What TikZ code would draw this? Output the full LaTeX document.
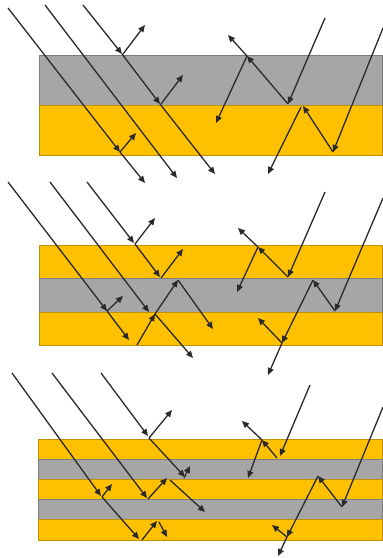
\documentclass[tikz,border=0pt]{standalone}
\usetikzlibrary{arrows.meta}
\definecolor{ylw}{HTML}{FFC000}
\definecolor{gry}{HTML}{A6A6A6}
\definecolor{raycol}{HTML}{2A2A2A}
\begin{document}
\begin{tikzpicture}[x=1pt,y=-1pt,
  ylayer/.style={fill=ylw,draw=ylw!75!black,line width=0.5pt},
  glayer/.style={fill=gry,draw=gry!75!black,line width=0.5pt},
  ray/.style={draw=raycol,line width=1.3pt,-{Triangle[length=7pt,width=6pt]}}]
\useasboundingbox (0,0) rectangle (383,558);
% ---------- panel 1 ----------
\path[glayer] (39,55) rectangle (382,105);
\path[ylayer] (39,105) rectangle (382,155);
% ---------- panel 2 ----------
\path[ylayer] (39,245) rectangle (382,278);
\path[glayer] (39,278) rectangle (382,312);
\path[ylayer] (39,312) rectangle (382,345);
% ---------- panel 3 ----------
\path[ylayer] (38,439) rectangle (382,459);
\path[glayer] (38,459) rectangle (382,479);
\path[ylayer] (38,479) rectangle (382,499);
\path[glayer] (38,499) rectangle (382,519);
\path[ylayer] (38,519) rectangle (382,540);

% ===== panel 1 rays =====
\draw[ray] (8,8) -- (120,152);
\draw[ray] (120,152) -- (145,183);
\draw[ray] (120,152) -- (136,133);
\draw[ray] (45,5) -- (177,178);
\draw[ray] (83,5) -- (122,54);
\draw[ray] (123,54) -- (145,25);
\draw[ray] (122,54) -- (160,104);
\draw[ray] (161,104) -- (183,75);
\draw[ray] (160,104) -- (215,174);
\draw[ray] (325,18) -- (288,104);
\draw[ray] (288,104) -- (247,56);
\draw[ray] (247,56) -- (228,35);
\draw[ray] (247,56) -- (216,123);
\draw[ray] (383,28) -- (333,152);
\draw[ray] (333,152) -- (303,106);
\draw[ray] (301,107) -- (268,174);

% ===== panel 2 rays =====
\draw[ray] (8,182) -- (107,311);
\draw[ray] (107,311) -- (123,296);
\draw[ray] (107,311) -- (129,340);
\draw[ray] (50,182) -- (149,312);
\draw[ray] (155,314) -- (193,358);
\draw[ray] (87,182) -- (134,243);
\draw[ray] (135,244) -- (155,218);
\draw[ray] (135,244) -- (160,277);
\draw[ray] (161,278) -- (183,249);
\draw[ray] (137,345) -- (155,314);
\draw[ray] (155,314) -- (178,280);
\draw[ray] (178,280) -- (213,329);
\draw[ray] (325,192) -- (288,277);
\draw[ray] (288,277) -- (258,247);
\draw[ray] (258,247) -- (238,228);
\draw[ray] (258,247) -- (237,292);
\draw[ray] (383,198) -- (335,311);
\draw[ray] (335,311) -- (313,280);
\draw[ray] (313,280) -- (282,343);
\draw[ray] (282,343) -- (268,375);
\draw[ray] (282,343) -- (258,318);

% ===== panel 3 rays =====
\draw[ray] (12,373) -- (101,496);
\draw[ray] (102,497) -- (112,484);
\draw[ray] (102,497) -- (139,539);
\draw[ray] (142,540) -- (157,521);
\draw[ray] (159,522) -- (167,537);
\draw[ray] (52,373) -- (147,498);
\draw[ray] (148,499) -- (167,478);
\draw[ray] (170,480) -- (205,512);
\draw[ray] (101,373) -- (148,436);
\draw[ray] (149,438) -- (172,410);
\draw[ray] (149,438) -- (185,477);
\draw[ray] (184,478) -- (190,466);
\draw[ray] (310,385) -- (280,456);
\draw[ray] (277,458) -- (262,440);
\draw[ray] (262,440) -- (242,421);
\draw[ray] (262,440) -- (248,478);
\draw[ray] (383,407) -- (342,507);
\draw[ray] (342,507) -- (318,476);
\draw[ray] (318,476) -- (287,537);
\draw[ray] (287,537) -- (278,556);
\draw[ray] (287,537) -- (272,525);
\end{tikzpicture}
\end{document}
